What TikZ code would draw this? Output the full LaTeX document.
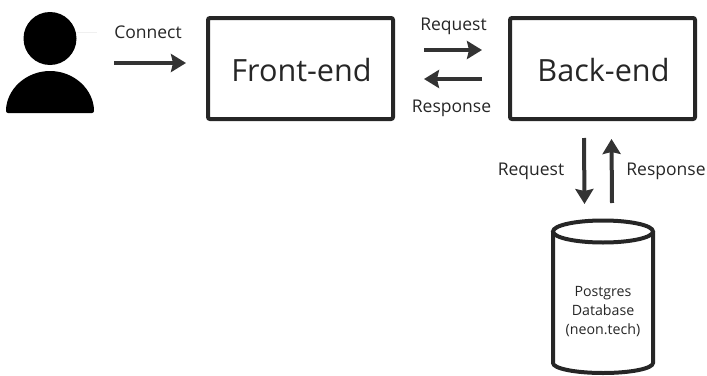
\documentclass[tikz,border=0pt]{standalone}
\usepackage{fontspec}
\setmainfont{Open Sans}
\usetikzlibrary{arrows.meta}
\definecolor{inkgray}{HTML}{333333}
\begin{document}
\begin{tikzpicture}[x=1pt, y=1pt, node distance=302pt, >={Stealth[length=15pt,width=18pt,inset=2pt]}]
    \tikzstyle{block} = [draw=black!85, line width=4pt, rectangle, rounded corners=2pt, minimum width=185pt, minimum height=101pt, font=\fontsize{30.6}{36}\selectfont, text=black!85, text height=26pt, text depth=0pt];
    \tikzstyle{flow} = [->, draw=inkgray, line width=4pt];
    \tikzstyle{tag} = [font=\fontsize{17.5}{21}\selectfont, text=black!85, inner sep=0pt];
    \useasboundingbox (0,0) rectangle (707,-375);
    \node [circle, fill=black, minimum size=53pt, inner sep=0pt] (head) at (50,-38.5) {};
    \fill [rounded corners=2pt] (6,-113) arc[start angle=180, end angle=0, x radius=44, y radius=42] -- cycle;
    \draw [black!6, line width=1pt] (head.east) ++(0,6) -- ++(20,0);
    \node [block] (front) at (300.5,-68.5) {\hspace*{2pt}Front-end};
    \node [block, right of=front] (back) {\hspace*{2pt}Back-end};
    % database
    \coordinate (dbtop) at (603,-220);
    \draw [black!85, line width=4pt] (553,-231.5) -- (553,-363) arc[start angle=180, end angle=360, x radius=50, y radius=10] -- (653,-231.5);
    \draw [black!85, line width=4pt] (603,-231.5) ellipse [x radius=50, y radius=11];
    \node [align=center, font=\fontsize{14.2}{19}\selectfont, text=black!85] (db) at (603,-312) {Postgres\\Database\\(neon.tech)};
    \draw [flow] ([xshift=37.5pt,yshift=-24.5pt]head.east) -- ([xshift=-20pt,yshift=5.5pt]front.west);
    \draw [flow] ([xshift=29pt,yshift=18.5pt]front.east) -- ([xshift=-26pt,yshift=18.5pt]back.west);
    \draw [flow] ([xshift=-26pt,yshift=-10.5pt]back.west) -- ([xshift=29pt,yshift=-10.5pt]front.east);
    \draw [flow] ([xshift=-18.5pt,yshift=-17pt]back.south) -- ([xshift=-18.5pt,yshift=16pt]dbtop);
    \draw [flow] ([xshift=9pt,yshift=17pt]dbtop) -- ([xshift=9pt,yshift=-18pt]back.south);
    \node [tag] (connect) at (148,-32.5) {Connect};
    \node [tag] (req1) at (453.5,-26.5) {Request};
    \node [tag] (resp1) at (451.5,-108.5) {Response};
    \node [tag] (req2) at (531,-171.5) {Request};
    \node [tag] (resp2) at (666,-171.5) {Response};
  \end{tikzpicture}
\end{document}
